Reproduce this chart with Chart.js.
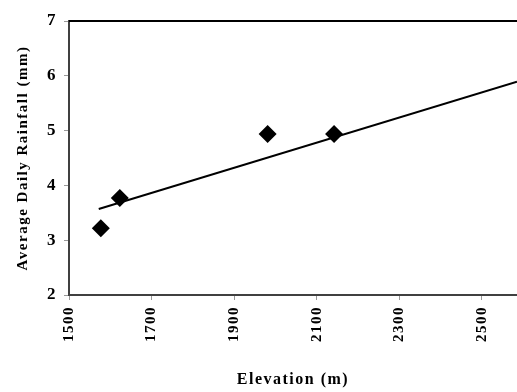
<!DOCTYPE html>
<html lang="en">
<head>
<meta charset="UTF-8">
<title>Elevation vs Rainfall</title>
<script src="https://cdn.jsdelivr.net/npm/chart.js"></script>
<style>
    body { margin: 0; background: #fff; }
    canvas { display: block; }
</style>
</head>
<body>
<canvas id="chart" width="517" height="392"></canvas>
<script>
    // observed stations
    const elevation = [1577, 1623, 1981, 2142];
    const rainfall = [3.22, 3.77, 4.94, 4.94];
    // fitted trend line, read at its two ends
    const trendX = [1572, 2585];
    const trendY = [3.57, 5.89];
    const xTicks = [1500, 1700, 1900, 2100, 2300, 2500];
    const yTicks = [2, 3, 4, 5, 6, 7];

    const serif = { family: 'Liberation Serif', weight: 'bold' };
    const axisColor = '#404040';

    // the original uses slightly spaced-out lettering
    const spacing = {
        id: 'spacing',
        beforeDraw(chart) {
            chart.ctx.letterSpacing = '1.5px';
        }
    };

    const topBorder = {
        id: 'topBorder',
        afterDatasetsDraw(chart) {
            const a = chart.chartArea;
            const ctx = chart.ctx;
            ctx.save();
            ctx.strokeStyle = '#000';
            ctx.lineWidth = 2;
            ctx.beginPath();
            ctx.moveTo(a.left, a.top);
            ctx.lineTo(a.right, a.top);
            ctx.stroke();
            ctx.restore();
        }
    };

    new Chart(document.getElementById('chart'), {
        type: 'scatter',
        data: {
            datasets: [
                {
                    label: 'Rainfall',
                    data: elevation.map((x, i) => ({ x: x, y: rainfall[i] })),
                    pointStyle: 'rectRot',
                    pointRadius: 9,
                    pointHoverRadius: 9,
                    backgroundColor: '#000',
                    borderColor: '#000',
                    borderWidth: 0
                },
                {
                    type: 'line',
                    label: 'Trend',
                    data: trendX.map((x, i) => ({ x: x, y: trendY[i] })),
                    borderColor: '#000',
                    borderWidth: 2,
                    pointRadius: 0,
                    fill: false
                }
            ]
        },
        options: {
            responsive: false,
            animation: false,
            layout: { autoPadding: false, padding: { top: 21, right: 0, left: 0, bottom: 0 } },
            plugins: { legend: { display: false }, tooltip: { enabled: false } },
            scales: {
                x: {
                    type: 'linear',
                    min: 1500,
                    max: 2585,
                    afterBuildTicks: s => { s.ticks = xTicks.map(v => ({ value: v })); },
                    afterFit: s => { s.height = 97; s.paddingRight = 0; s.paddingLeft = 0; },
                    border: { color: axisColor, width: 2 },
                    grid: { drawOnChartArea: false, color: '#999', tickLength: 5 },
                    ticks: {
                        color: '#000',
                        font: { ...serif, size: 15 },
                        minRotation: 90,
                        maxRotation: 90,
                        padding: 6,
                        callback: v => String(v)
                    },
                    title: {
                        display: true,
                        text: 'Elevation (m)',
                        color: '#000',
                        font: { ...serif, size: 16 },
                        padding: { top: 0, bottom: 3 }
                    }
                },
                y: {
                    min: 2,
                    max: 7,
                    afterBuildTicks: s => { s.ticks = yTicks.map(v => ({ value: v })); },
                    afterFit: s => { s.width = 69; },
                    border: { color: axisColor, width: 2 },
                    grid: { drawOnChartArea: false, color: '#999', tickLength: 5 },
                    ticks: {
                        color: '#000',
                        font: { ...serif, size: 17 },
                        padding: 7
                    },
                    title: {
                        display: true,
                        text: 'Average Daily Rainfall (mm)',
                        color: '#000',
                        font: { ...serif, size: 15 },
                        padding: { top: 14, bottom: 0 }
                    }
                }
            }
        },
        plugins: [spacing, topBorder]
    });
</script>
</body>
</html>
